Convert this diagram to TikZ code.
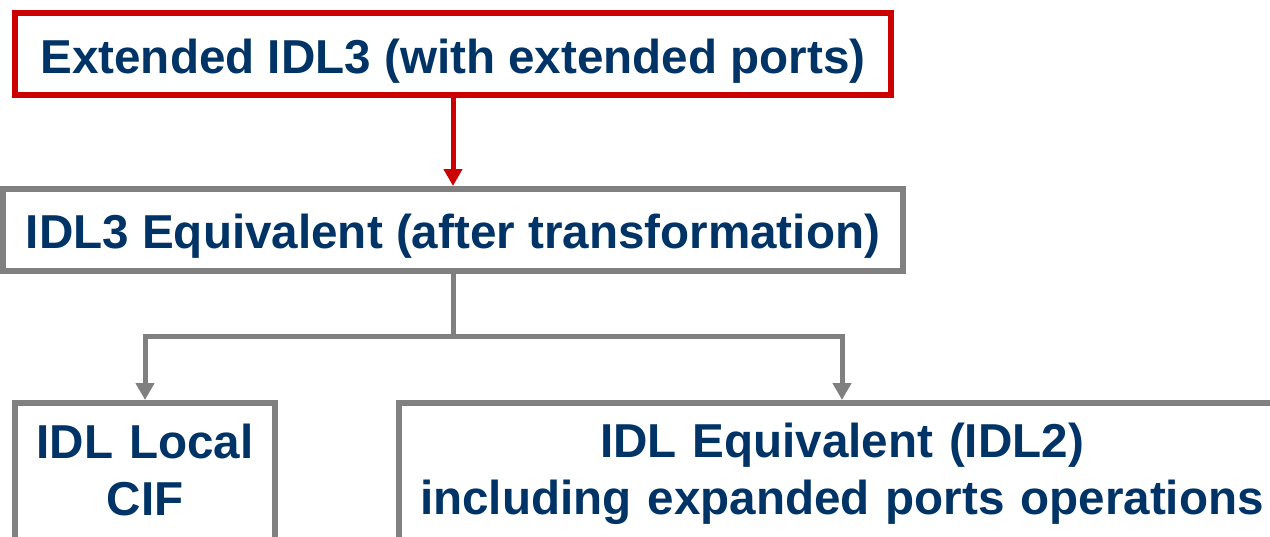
\documentclass[tikz,border=0pt]{standalone}
\usepackage{fontspec}
\setmainfont{Liberation Sans}
\usetikzlibrary{arrows.meta}
\definecolor{txtblue}{RGB}{0,51,102}
\definecolor{boxred}{RGB}{204,0,0}
\definecolor{boxgray}{RGB}{128,128,128}
\tikzset{
  box/.style={draw=boxgray, line width=6pt, fill=white, inner xsep=0pt, inner ysep=0pt,
    text=txtblue, font=\fontsize{47.6}{57.5}\selectfont\bfseries, align=center},
  redbox/.style={box, draw=boxred},
  conn/.style={draw=boxgray, line width=5pt, -{Triangle[width=18pt,length=17pt]}},
  redconn/.style={conn, draw=boxred, -{Triangle[width=18pt,length=17pt,fill=boxred]}}
}
\begin{document}
\begin{tikzpicture}[x=1pt,y=1pt]
\useasboundingbox (0,0) rectangle (1270,-536);
\clip (0,0) rectangle (1270,-536);
\fill[white] (0,0) rectangle (1270,-536);
\node[redbox, minimum width=876pt, text height=60pt, text depth=22pt] (top) at (453,-54) {Extended IDL3 (with extended ports)};
\node[box, minimum width=900pt, text height=59pt, text depth=23pt] (equiv) at (453,-230) {IDL3 Equivalent (after transformation)};
\node[box, anchor=north, text width=260pt, text height=55pt, text depth=160pt] (local) at (145,-400) {IDL Local\\CIF};
\node[box, anchor=north, text width=886pt, text height=54pt, text depth=160pt] (idl2) at (842,-400) {IDL Equivalent (IDL2)\\including expanded ports operations};
\draw[redconn] (top.south) -- (equiv.north);
\path (equiv.south) ++(0,-62) coordinate (j);
\draw[conn] (equiv.south) -- (j) -| (local.north);
\draw[conn] (j) -| (idl2.north);
\end{tikzpicture}
\end{document}
